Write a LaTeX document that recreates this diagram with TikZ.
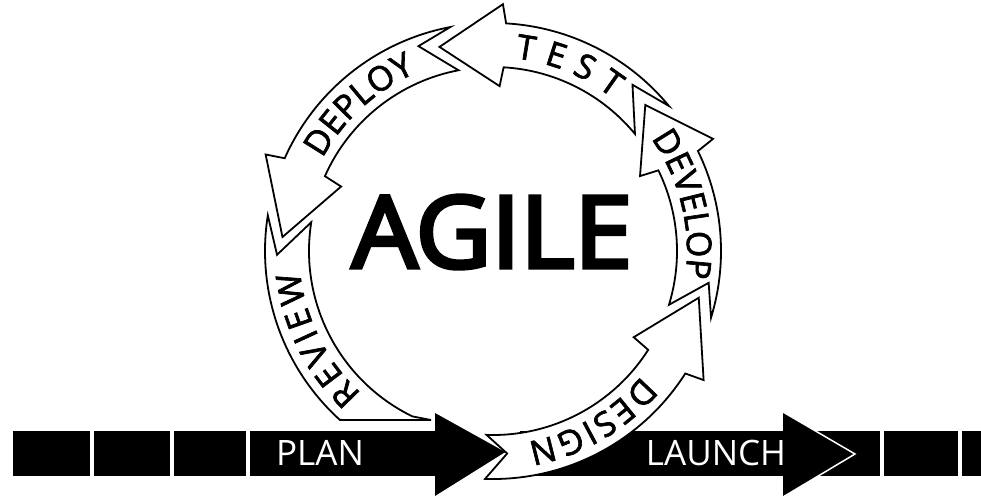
\documentclass[tikz,border=0pt]{standalone}
\usepackage{fontspec}
\setmainfont{Open Sans}
\newfontfamily\ringfont{Open Sans}[FakeBold=2]
\newfontfamily\agileface{Open Sans}[FakeBold=4]
\usepackage{tikz}
\usetikzlibrary{decorations.text}
\newcommand{\ringlabelfont}{\ringfont\fontsize{34}{34}\selectfont}
\newcommand{\agilefont}{\agileface\fontsize{100}{100}\selectfont}
% tail angle, head angle, tip angle, notch angle, notch radius
\newcommand{\ringarrow}[5]{%
  \draw[band] (#1:228) arc[start angle=#1, end angle=#2, radius=228]
    -- (#2-1:247) -- (#3:211) -- (#2-1:165) -- (#2:184)
    arc[start angle=#2, end angle=#1, radius=184] -- (#4:#5) -- cycle;}
% start angle, end angle, word
\newcommand{\ringlabel}[3]{%
  \path[decorate, decoration={text along path, text align={fit to path},
    text={|\ringlabelfont|#3}}] (#1:194) arc[start angle=#1, end angle=#2, radius=194];}

\begin{document}
\begin{tikzpicture}[x=1pt,y=-1pt,
    band/.style={draw=black,fill=white,line width=1.8pt,line join=miter},
    gap/.style={draw=white,line width=4pt},
    head edge/.style={draw=white,line width=1.5pt},
    bar text/.style={text=white,inner sep=0pt,font=\fontsize{35}{35}\selectfont}]
  \useasboundingbox (0,0) rectangle (981,500);

  \begin{scope}[shift={(493,251)}]
    % review
    \draw[band] (189:228) arc[start angle=189, end angle=132.2, radius=228]
      -- (-62,169) -- (116:184) arc[start angle=116, end angle=189, radius=184]
      -- (179:216) -- cycle;
    \ringarrow{259.2}{204}{183.8}{250}{218}    % deploy
    \ringarrow{320.5}{273.3}{255.3}{310}{217}  % test
    \ringarrow{377}{334}{316.2}{368.4}{218}    % develop
  \end{scope}

  % time line
  \fill (13,431) rectangle (436,476);
  \fill (520,431) rectangle (981,476);
  \fill (435,412) -- (507,452) -- (435,497) -- cycle;
  \draw[head edge] (435,412) -- (507,452) -- (435,497);
  \fill (783,412) -- (855,454) -- (783,497) -- cycle;
  \draw[head edge] (783,412) -- (855,454) -- (783,497);
  \foreach \x in {92,172,248,882,960}
    \draw[gap] (\x,431) -- (\x,476);

  \begin{scope}[shift={(493,251)}]
    \ringarrow{92}{32.5}{12.8}{86}{203}        % design
    \ringlabel{276.5}{308}{TEST}
    \ringlabel{208.5}{246.5}{DEPLOY}
    \ringlabel{-35.5}{8}{DEVELOP}
    \ringlabel{132.7}{173.9}{REVIEW}
    \ringlabel{40}{79.7}{DESIGN}
  \end{scope}

  \node[bar text] (plan) at (320,453) {PLAN};
  \node[bar text] (launch) at (716,453) {LAUNCH};
  \node[font=\agilefont,transform shape,xscale=1.04] (agile) at (492,232) {AGILE};
\end{tikzpicture}
\end{document}
